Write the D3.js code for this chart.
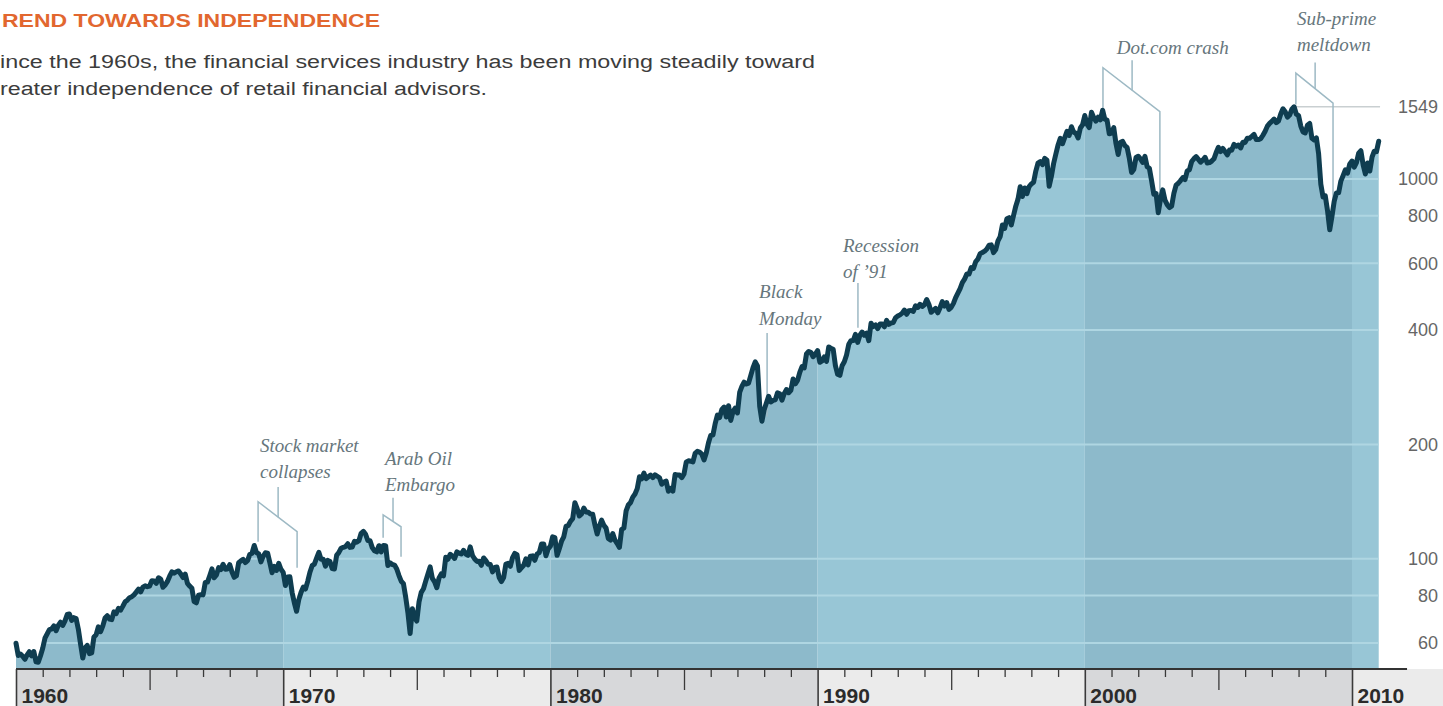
<!DOCTYPE html>
<html><head><meta charset="utf-8">
<script src="https://cdn.jsdelivr.net/npm/d3@7"></script>
<style>body{margin:0;background:#fff;overflow:hidden} svg{display:block}</style>
</head><body>
<svg id="chart" width="1443" height="706"></svg>
<script>
// Monthly closes, first value = close at start of 1960 (end of Dec 1959)
const closes1960s = [59.89,
 55.61,56.12,55.34,54.37,55.83,56.92,55.51,56.96,53.52,53.39,55.54,58.11,
 61.78,63.44,65.06,65.31,66.56,64.64,66.76,68.07,66.73,68.62,71.32,71.55,
 68.84,69.96,69.55,65.24,59.63,54.75,58.23,59.12,56.27,56.52,62.26,63.10,
 66.20,64.29,66.57,69.80,70.80,69.37,69.13,72.50,71.70,74.01,73.23,75.02,
 77.04,77.80,78.98,79.46,80.37,81.69,83.18,81.83,84.18,84.86,84.42,84.75,
 87.56,87.43,86.16,89.11,88.42,84.12,85.25,87.17,89.96,92.42,91.61,92.43,
 92.88,91.22,89.23,91.06,86.13,84.74,83.60,77.10,76.56,80.20,80.45,80.33,
 86.61,86.78,90.20,94.01,89.08,90.64,94.75,93.64,96.71,93.90,94.00,96.47,
 92.24,89.36,90.20,97.59,98.68,99.58,97.74,98.86,102.67,103.41,108.37,103.86,
 103.01,98.13,101.51,103.69,103.46,97.71,91.83,95.51,93.12,97.24,93.81,92.06];
const closes1970s = [
 85.02,89.50,89.63,81.52,76.55,72.72,78.05,81.52,84.21,83.25,87.20,92.15,
 95.88,96.75,100.31,103.95,99.63,99.70,95.58,99.03,98.34,94.23,93.99,102.09,
 103.94,106.57,107.20,107.67,109.53,107.14,107.39,111.09,110.55,111.58,116.67,118.05,
 116.03,111.68,111.52,106.97,104.95,104.26,108.22,104.25,108.43,108.29,95.96,97.55,
 96.57,96.22,93.98,90.31,87.28,86.00,79.31,72.15,63.54,73.90,69.97,68.56,
 76.98,81.59,83.36,87.30,91.15,95.19,88.75,86.88,83.87,89.04,91.24,90.19,
 100.86,99.71,102.77,101.64,100.18,104.28,103.44,102.91,105.24,102.90,102.10,107.46,
 102.03,99.82,98.42,98.44,96.12,100.48,98.85,96.77,96.53,92.34,94.83,95.10,
 89.25,87.04,89.21,96.83,97.24,95.53,100.68,103.29,102.54,93.15,94.70,96.11,
 99.93,96.28,101.59,101.76,99.08,102.91,103.81,109.32,109.32,101.82,106.16,107.94];
const closes1980s = [
 114.16,113.66,102.09,106.29,111.24,114.24,121.67,122.38,125.46,127.47,140.52,135.76,
 129.55,131.27,136.00,132.81,132.59,131.21,130.92,122.79,116.18,121.89,126.35,122.55,
 120.40,113.11,111.96,116.44,111.88,109.61,107.09,119.51,120.42,133.71,138.54,140.64,
 145.30,148.06,152.96,164.42,162.39,168.11,162.56,164.40,166.07,163.55,166.40,164.93,
 163.41,157.06,159.18,160.05,150.55,153.18,150.66,166.68,166.10,166.09,163.58,167.24,
 179.63,181.18,180.66,179.83,189.55,191.85,190.92,188.63,182.08,189.82,202.17,211.28,
 211.78,226.92,238.90,235.52,247.35,250.84,236.12,252.93,231.32,243.98,249.22,242.17,
 274.08,284.20,291.70,288.36,290.10,304.00,318.66,329.80,321.83,251.79,230.30,247.08,
 257.07,267.82,258.89,261.33,262.16,273.50,272.02,261.52,271.91,278.97,273.70,277.72,
 297.47,288.86,294.87,309.64,320.52,317.98,346.08,351.45,349.15,340.36,345.99,353.40];
const closes1990s = [
 329.08,331.89,339.94,330.80,361.23,358.02,356.15,322.56,306.05,304.00,322.22,330.22,
 343.93,367.07,375.22,375.35,389.83,371.16,387.81,395.43,387.86,392.46,375.22,417.09,
 408.79,412.70,403.69,414.95,415.35,408.14,424.21,414.03,417.80,418.68,431.35,435.71,
 438.78,443.38,451.67,440.19,450.19,450.53,448.13,463.56,458.93,467.83,461.79,466.45,
 481.61,467.14,445.77,450.91,456.50,444.27,458.26,475.49,462.69,472.35,453.69,459.27,
 470.42,487.39,500.71,514.71,533.40,544.75,562.06,561.88,584.41,581.50,605.37,615.93,
 636.02,640.43,645.50,654.17,669.12,670.63,639.95,651.99,687.33,705.27,757.02,740.74,
 786.16,790.82,757.12,801.34,848.28,885.14,954.29,899.47,947.28,914.62,955.40,970.43,
 980.28,1049.34,1101.75,1111.75,1090.82,1133.84,1120.67,957.28,1017.01,1098.67,1163.63,1229.23,
 1279.64,1238.33,1286.37,1335.18,1301.84,1372.71,1328.72,1320.41,1282.71,1362.93,1388.91,1469.25];
const closes2000s = [
 1394.46,1366.42,1498.58,1452.43,1420.60,1454.60,1430.83,1517.68,1436.51,1429.40,1314.95,1320.28,
 1366.01,1239.94,1160.33,1249.46,1255.82,1224.42,1211.23,1133.58,1040.94,1059.78,1139.45,1148.08,
 1130.20,1106.73,1147.39,1076.92,1067.14,989.82,911.62,916.07,815.28,885.76,936.31,879.82,
 855.70,841.15,848.18,916.92,963.59,974.50,990.31,1008.01,995.97,1050.71,1058.20,1111.92,
 1131.13,1144.94,1126.21,1107.30,1120.68,1140.84,1101.72,1104.24,1114.58,1130.20,1173.82,1211.92,
 1181.27,1203.60,1180.59,1156.85,1191.50,1191.33,1234.18,1220.33,1228.81,1207.01,1249.48,1248.29,
 1280.08,1280.66,1294.83,1310.61,1270.09,1270.20,1276.66,1303.82,1335.85,1377.94,1400.63,1418.30,
 1438.24,1406.82,1420.86,1482.37,1530.62,1503.35,1455.27,1473.99,1526.75,1549.38,1481.14,1468.36,
 1378.55,1330.63,1322.70,1385.59,1400.38,1280.00,1267.38,1282.83,1166.36,968.75,896.24,903.25,
 825.88,735.09,797.87,872.81,919.14,919.32,987.48,1020.62,1057.08,1036.19,1095.63,1115.10];
const closes2010s = [
 1073.87,1104.49,1169.43,1186.69,1089.41,1030.71,1101.60,1049.33,1141.20,1183.26,1180.55,1257.64];

const gridValues = [60, 80, 100, 200, 400, 600, 800, 1000];
const yTickValues = [60, 80, 100, 200, 400, 600, 800, 1000, 1549];
const decades = [1960, 1970, 1980, 1990, 2000, 2010];
const peakValue = 1549;

const titleText = "REND TOWARDS INDEPENDENCE";
const subtitleLines = [
  "ince the 1960s, the financial services industry has been moving steadily toward",
  "reater independence of retail financial advisors."
];

// annotations in data units: [year, value]
const annotations = [
  {lines: ["Stock market", "collapses"], textAt: [1969.13, 191.2],
   bracket: [[1969.06,110.9],[1969.06,141.3],[1970.52,117.8],[1970.52,94.7]],
   stem: [[1969.81,128.6],[1969.81,154.6]]},
  {lines: ["Arab Oil", "Embargo"], textAt: [1973.81, 176.7],
   bracket: [[1973.74,113.6],[1973.74,130.5],[1974.41,121.4],[1974.41,101.2]],
   stem: [[1974.11,125.3],[1974.11,144.7]]},
  {lines: ["Black", "Monday"], textAt: [1987.81, 486],
   bracket: null, stem: [[1988.11,236.4],[1988.11,393.3]]},
  {lines: ["Recession", "of  \u201991"], textAt: [1990.95, 642.7],
   bracket: null, stem: [[1991.51,405.6],[1991.51,532.4]]},
  {lines: ["Dot.com crash"], textAt: [2001.2, 2140],
   bracket: [[2000.68,1541],[2000.68,1963],[2002.81,1504],[2002.81,814]],
   stem: [[2001.77,1712],[2001.77,2053]]},
  {lines: ["Sub-prime", "meltdown"], textAt: [2007.94, 2547],
   bracket: [[2007.90,1570],[2007.90,1901],[2009.29,1584],[2009.29,845]],
   stem: [[2008.62,1727],[2008.62,2028]]}
];

const allCloses = [].concat(closes1960s, closes1970s, closes1980s, closes1990s, closes2000s, closes2010s);
const series = allCloses.map((v, i) => ({t: 1960 + i / 12, v}));

const W = 1443, H = 706, axisY = 669;
const svg = d3.select("#chart");
const x = d3.scaleLinear().domain([1960, 2010]).range([16, 1352]);
const y = d3.scaleLog().domain([60, 1000]).range([643, 179]);

// title
svg.append("text").attr("x", 2).attr("y", 27).text(titleText)
  .attr("font-family", "Liberation Sans, Arial, sans-serif").attr("font-weight", "bold")
  .attr("font-size", 19).attr("fill", "#e2672f")
  .attr("textLength", 378).attr("lengthAdjust", "spacingAndGlyphs");
const subW = [815, 487];
subtitleLines.forEach((s, i) => {
  svg.append("text").attr("x", 0).attr("y", 68 + i * 27).text(s)
    .attr("font-family", "Liberation Sans, Arial, sans-serif")
    .attr("font-size", 18).attr("fill", "#3c3c3c")
    .attr("textLength", subW[i]).attr("lengthAdjust", "spacingAndGlyphs");
});

// bottom band
decades.forEach((d, i) => {
  const x0 = x(d), x1 = d === 2010 ? W : x(d + 10);
  svg.append("rect").attr("x", x0).attr("y", axisY).attr("width", x1 - x0).attr("height", H - axisY)
    .attr("fill", i % 2 === 0 ? "#d7d8da" : "#ebebeb");
});

// area clip
const area = d3.area().x(d => x(d.t)).y0(axisY).y1(d => y(d.v));
svg.append("clipPath").attr("id", "areaClip").append("path").attr("d", area(series));

const plot = svg.append("g").attr("clip-path", "url(#areaClip)");
decades.forEach((d, i) => {
  const x0 = x(d) - (i === 0 ? 10 : 0), x1 = d === 2010 ? W : x(d + 10);
  plot.append("rect").attr("x", x0).attr("y", 0).attr("width", x1 - x0).attr("height", axisY)
    .attr("fill", i % 2 === 0 ? "#8dbacb" : "#98c6d6");
});
plot.selectAll("line.grid").data(gridValues).join("line").attr("class", "grid")
  .attr("x1", 0).attr("x2", W).attr("y1", d => y(d)).attr("y2", d => y(d))
  .attr("stroke", "#afd6e2").attr("stroke-width", 2);

// reference line at peak
svg.append("line").attr("x1", x(2007.9)).attr("x2", x(2011.05))
  .attr("y1", y(peakValue)).attr("y2", y(peakValue))
  .attr("stroke", "#c9cfd1").attr("stroke-width", 1.5);

// annotations
const lineGen = d3.line().x(d => x(d[0])).y(d => y(d[1]));
annotations.forEach(a => {
  if (a.bracket) svg.append("path").attr("d", lineGen(a.bracket)).attr("fill", "none")
    .attr("stroke", "#9db9c4").attr("stroke-width", 1.5);
  svg.append("path").attr("d", lineGen(a.stem)).attr("fill", "none")
    .attr("stroke", "#9db9c4").attr("stroke-width", 1.5);
  const t = svg.append("text").attr("font-family", "Liberation Serif, Times New Roman, serif")
    .attr("font-style", "italic").attr("font-size", 19).attr("fill", "#66767c");
  a.lines.forEach((l, i) => {
    t.append("tspan").attr("x", x(a.textAt[0])).attr("y", y(a.textAt[1]) + i * 26.5).text(l);
  });
});

// data line
svg.append("path").attr("d", d3.line().x(d => x(d.t)).y(d => y(d.v))(series))
  .attr("fill", "none").attr("stroke", "#0f3d50").attr("stroke-width", 5)
  .attr("stroke-linejoin", "round").attr("stroke-linecap", "round");

// x axis
const xAxis = d3.axisBottom(x).tickValues(d3.range(1960, 2011)).tickSize(8).tickFormat("");
const gx = svg.append("g").attr("transform", `translate(0,${axisY})`).call(xAxis);
gx.select(".domain").remove();
gx.selectAll(".tick line")
  .attr("y2", d => d % 10 === 0 ? H - axisY : (d % 5 === 0 ? 21 : 8))
  .attr("stroke", "#3a3a3a").attr("stroke-width", d => d % 10 === 0 ? 1.6 : 1.3);
gx.append("line").attr("x1", x(1960)).attr("x2", x(2012.06)).attr("y1", 0).attr("y2", 0)
  .attr("stroke", "#333").attr("stroke-width", 2);
gx.selectAll(".tick").filter(d => d % 10 === 0).append("text")
  .attr("x", 5).attr("y", 34).attr("text-anchor", "start")
  .attr("font-family", "Liberation Sans, Arial, sans-serif").attr("font-weight", "bold")
  .attr("font-size", 21).attr("fill", "#2b2b2b").text(d => d);

// y axis labels
const yAxis = d3.axisRight(y).tickValues(yTickValues).tickSize(0).tickPadding(0).tickFormat(d3.format("d"));
const gy = svg.append("g").attr("transform", "translate(1438,0)").call(yAxis);
gy.select(".domain").remove();
gy.selectAll(".tick text").attr("text-anchor", "end").attr("x", 0)
  .attr("font-family", "Liberation Sans, Arial, sans-serif").attr("font-size", 18).attr("fill", "#666");
</script>
</body></html>
